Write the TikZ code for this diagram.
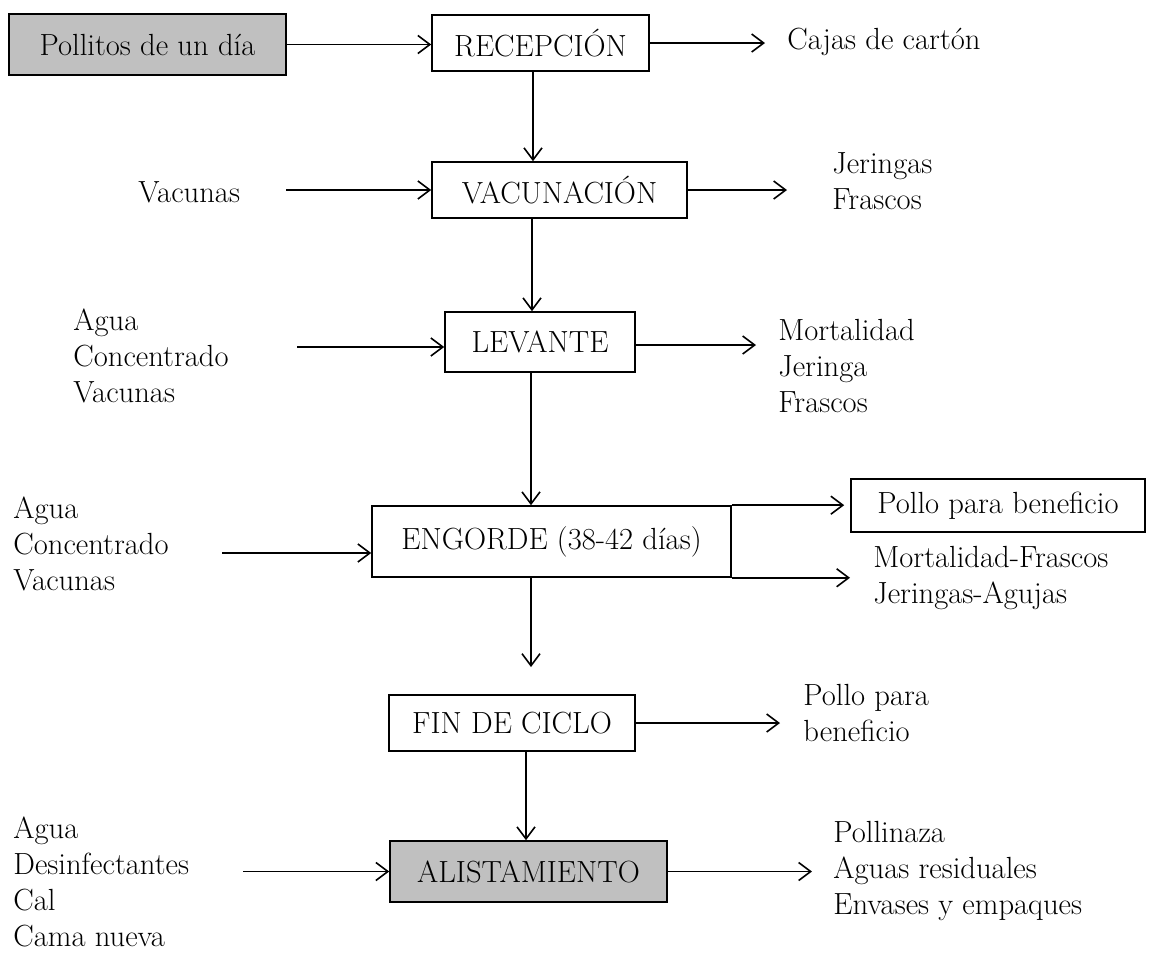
\documentclass[tikz,border=0pt]{standalone}
\usepackage{tikz}
\usetikzlibrary{arrows.meta}
\definecolor{boxgray}{RGB}{192,192,192}
\tikzset{
  stage/.style={draw, line width=0.8pt, inner sep=0pt, minimum height=28pt,
    font=\fontsize{15.3}{18}\selectfont},
  items/.style={anchor=west, align=left, inner sep=0pt,
    font=\fontsize{15.3}{18}\selectfont},
  flow/.style={line width=0.8pt, -{Straight Barb[length=6pt,width=9pt]}}}

\begin{document}
\begin{tikzpicture}[x=0.5pt, y=-0.5pt]
  \useasboundingbox (0,0) rectangle (1153,954);
  % stages
  \node[stage, fill=boxgray, minimum width=138.5pt, minimum height=30.5pt] (pollitos) at (147.5,44.5) {Pollitos de un día};
  \node[stage, minimum width=108.5pt] (recep) at (540.5,43) {RECEPCIÓN};
  \node[stage, minimum width=127.5pt] (vacun) at (559.5,190) {VACUNACIÓN};
  \node[stage, minimum width=95pt, minimum height=30pt] (levante) at (540,342) {LEVANTE};
  \node[stage, minimum width=179.5pt, minimum height=35.5pt] (engorde) at (551.5,541.5) {ENGORDE (38-42 días)};
  \node[stage, minimum width=147pt, minimum height=26.5pt] (pollobox) at (998,505.5) {Pollo para beneficio};
  \node[stage, minimum width=123pt] (fin) at (512,723) {FIN DE CICLO};
  \node[stage, fill=boxgray, minimum width=138.5pt, minimum height=30.5pt] (alist) at (528.5,871.5) {ALISTAMIENTO};
  % inputs and outputs
  \node[items] (cajas) at (787,42) {Cajas de cartón};
  \node[items] (vacin) at (138,192) {Vacunas};
  \node[items] (jer) at (832,181) {Jeringas\\Frascos};
  \node[items] (levin) at (73,356) {Agua\\Concentrado\\Vacunas};
  \node[items] (levout) at (778,366) {Mortalidad\\Jeringa\\Frascos};
  \node[items] (engin) at (13,544) {Agua\\Concentrado\\Vacunas};
  \node[items] (engout) at (873,578) {Mortalidad-Frascos\\Jeringas-Agujas};
  \node[items] (finout) at (803,713) {Pollo para\\beneficio};
  \node[items] (alisin) at (13,882) {Agua\\Desinfectantes\\Cal\\Cama nueva};
  \node[items] (alisout) at (833,871) {Pollinaza\\Aguas residuales\\Envases y empaques};
  \coordinate (finend) at (531,667);

  % main line
  \draw[flow] ([xshift=-3.75pt]recep.south) -- ([xshift=-3.75pt]recep.south |- vacun.north);
  \draw[flow] ([xshift=-4pt]levante.north |- vacun.south) -- ([xshift=-4pt]levante.north);
  \draw[flow] ([xshift=-4.5pt]levante.south) -- ([xshift=-4.5pt]levante.south |- engorde.north);
  \draw[flow] (finend |- engorde.south) -- (finend);
  \draw[flow] ([xshift=7pt]fin.south) -- ([xshift=7pt]fin.south |- alist.north);

  % inputs
  \draw[flow] (pollitos.east) -- (pollitos.east -| recep.west);
  \draw[flow] ([xshift=-72.5pt]vacun.west) -- (vacun.west);
  \draw[flow] ([xshift=-73.5pt,yshift=-2.5pt]levante.west) -- ([yshift=-2.5pt]levante.west);
  \draw[flow] ([xshift=-74.5pt,yshift=-5.75pt]engorde.west) -- ([yshift=-5.75pt]engorde.west);
  \draw[flow] ([xshift=-73pt]alist.west) -- (alist.west);

  % outputs
  \draw[flow] (recep.east) -- ([xshift=-11pt]cajas.west |- recep.east);
  \draw[flow] (vacun.east) -- ([xshift=-22.5pt]jer.west |- vacun.east);
  \draw[flow] ([yshift=-1.5pt]levante.east) -- ([xshift=-11pt,yshift=-1.5pt]levout.west |- levante.east);
  \draw[flow] (engorde.north east) -- ([xshift=-3pt]pollobox.west |- engorde.north east);
  \draw[flow] (engorde.south east) -- ([xshift=-11.5pt]engout.west |- engorde.south east);
  \draw[flow] (fin.east) -- ([xshift=-11.5pt]finout.west |- fin.east);
  \draw[flow] (alist.east) -- ([xshift=-10.5pt]alisout.west |- alist.east);
\end{tikzpicture}
\end{document}
